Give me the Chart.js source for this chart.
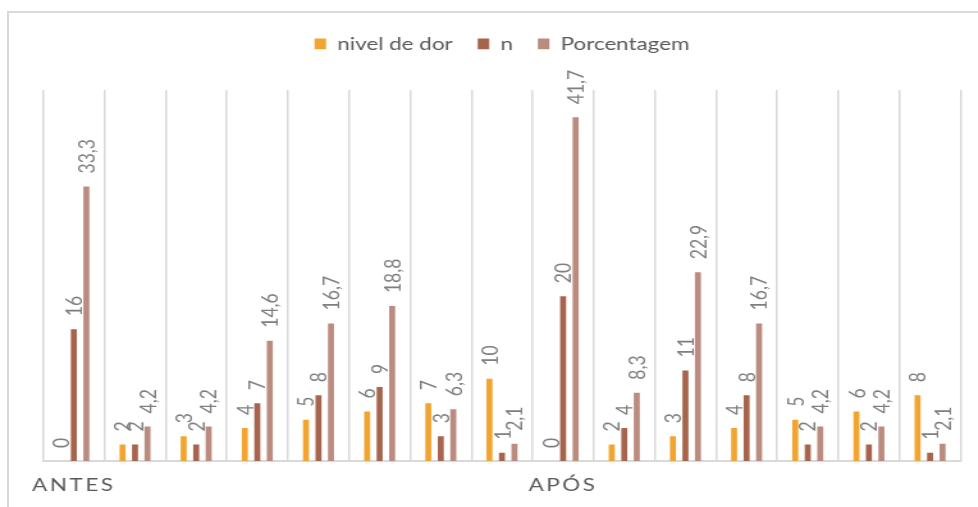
<!DOCTYPE html>
<html lang="pt">
<head>
<meta charset="utf-8">
<title>Nível de dor — antes e após</title>
<script src="https://cdn.jsdelivr.net/npm/chart.js@4.4.1/dist/chart.umd.min.js"></script>
<style>
  html, body { margin: 0; padding: 0; background: #ffffff; overflow: hidden; }
  body { width: 978px; height: 507px; position: relative; }
  /* light frame around the chart, open to the right and bottom */
  #frame {
    position: absolute; left: 7px; top: 11px; width: 3000px; height: 3000px;
    border-left: 2px solid #d9d9d9; border-top: 2px solid #d9d9d9;
  }
  /* chart is laid out in a narrower box and widened horizontally */
  #wrap {
    position: absolute; left: 0; top: 0; width: 764px; height: 507px;
    transform: scaleX(1.28); transform-origin: 0 0;
  }
</style>
</head>
<body>
<div id="frame"></div>
<div id="wrap"><canvas id="chart"></canvas></div>
<script>
// category row: period shown under the first bar group of each period
const periodLabels = ['ANTES', '', '', '', '', '', '', '', 'APÓS', '', '', '', '', '', ''];
// pain level of each group
const nivelDeDor = [0, 2, 3, 4, 5, 6, 7, 10, 0, 2, 3, 4, 5, 6, 8];
// number of people
const nValues = [16, 2, 2, 7, 8, 9, 3, 1, 20, 4, 11, 8, 2, 2, 1];
// share of people, %
const porcentagem = [33.3, 4.2, 4.2, 14.6, 16.7, 18.8, 6.3, 2.1, 41.7, 8.3, 22.9, 16.7, 4.2, 4.2, 2.1];

const FONT = 'Lato, "Open Sans", "Noto Sans", sans-serif';
Chart.defaults.font.family = FONT;

// category axis whose tick labels are drawn letter-spaced
class SpacedCategoryScale extends Chart.CategoryScale {
  drawLabels(chartArea) {
    const ctx = this.ctx;
    ctx.save();
    ctx.letterSpacing = '2px';
    super.drawLabels(chartArea);
    ctx.restore();
  }
}
SpacedCategoryScale.id = 'spacedCategory';
SpacedCategoryScale.defaults = Chart.CategoryScale.defaults;
Chart.register(SpacedCategoryScale);

// vertical value labels above each bar, decimal comma
const barValueLabels = {
  id: 'barValueLabels',
  afterDatasetsDraw(chart) {
    const ctx = chart.ctx;
    ctx.save();
    ctx.font = '17.5px ' + FONT;
    ctx.fillStyle = '#7f7f7f';
    ctx.textAlign = 'left';
    ctx.textBaseline = 'middle';
    chart.data.datasets.forEach((ds, di) => {
      const meta = chart.getDatasetMeta(di);
      meta.data.forEach((bar, i) => {
        const text = String(ds.data[i]).replace('.', ',');
        ctx.save();
        ctx.translate(bar.x + 0.8, bar.y - 13);
        ctx.rotate(-Math.PI / 2);
        ctx.fillText(text, 0, 0);
        ctx.restore();
      });
    });
    ctx.restore();
  }
};

new Chart(document.getElementById('chart'), {
  type: 'bar',
  data: {
    labels: periodLabels,
    datasets: [
      { label: 'nivel de dor', data: nivelDeDor, backgroundColor: '#f2a431' },
      { label: 'n', data: nValues, backgroundColor: '#a6644c' },
      { label: 'Porcentagem', data: porcentagem, backgroundColor: '#ba8b7e' }
    ]
  },
  options: {
    responsive: true,
    maintainAspectRatio: false,
    animation: false,
    datasets: { bar: { categoryPercentage: 0.613, barPercentage: 0.48 } },
    layout: { padding: { left: 33.8, right: 13.5, top: 15.65, bottom: -2.9 } },
    scales: {
      x: {
        type: 'spacedCategory',
        offset: true,
        grid: { display: true, offset: true, color: '#d9d9d9', lineWidth: 1.5, drawTicks: false },
        border: { display: true, color: '#d9d9d9', width: 2 },
        ticks: {
          autoSkip: false, maxRotation: 0, minRotation: 0, padding: 13.9,
          color: '#595959', font: { size: 17.5 }
        }
      },
      y: { display: false, min: 0, max: 45 }
    },
    plugins: {
      legend: {
        position: 'top',
        labels: {
          boxWidth: 9, boxHeight: 10.7, padding: 19.5,
          color: '#595959', font: { size: 17.5 }
        }
      },
      // spacer between the legend and the plot
      title: { display: true, text: '', weight: 500, font: { size: 10 }, padding: { top: 0, bottom: 15.35 } },
      tooltip: { enabled: false }
    }
  },
  plugins: [barValueLabels]
});
</script>
</body>
</html>
